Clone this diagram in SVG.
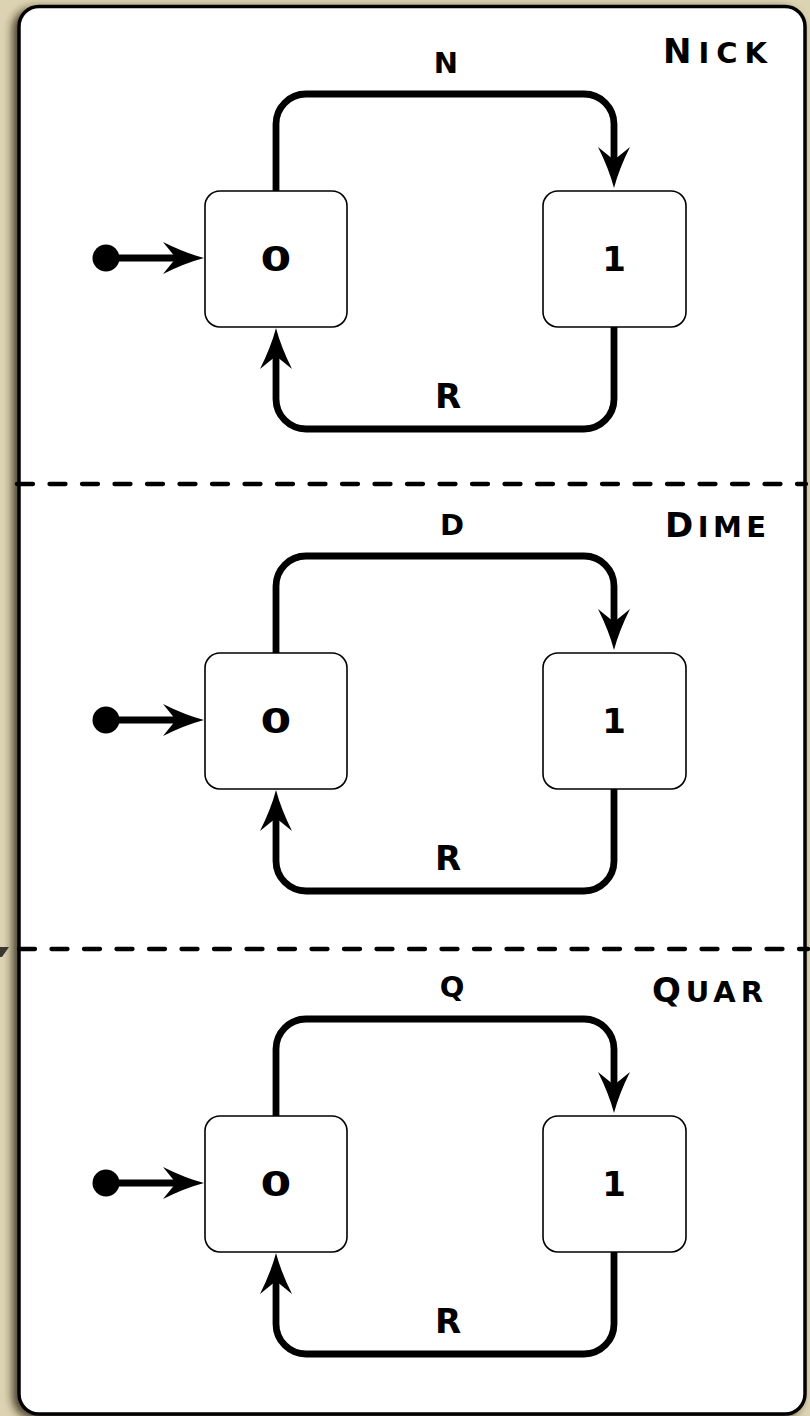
<svg xmlns="http://www.w3.org/2000/svg" width="810" height="1416" viewBox="0 0 810 1416">
  <style>
    .bg { fill: #dcd3b2; }
    .panel { fill: #ffffff; stroke: #000; stroke-width: 3.5; }
    .state { fill: #ffffff; stroke: #000; stroke-width: 1.6; }
    .edge { fill: none; stroke: #000; stroke-width: 6.8; stroke-linecap: butt; }
    .divider { fill: none; stroke: #000; stroke-width: 4.3; stroke-linecap: round; stroke-dasharray: 16 16.5; }
    .lbl { font-family: "DejaVu Sans", "Liberation Sans", sans-serif; font-weight: bold; fill: #000; text-anchor: middle; }
    .edge-lbl { font-size: 29px; }
    .ret-lbl { font-size: 34px; }
    .state-lbl { font-size: 34px; }
    .title { font-family: "DejaVu Sans", "Liberation Sans", sans-serif; font-weight: bold; font-size: 34px; font-variant: small-caps; fill: #000; }
    .title tspan { font-size: 42px; }
  </style>
  <defs>
    <filter id="panelShadow" x="-5%" y="-5%" width="110%" height="110%">
      <feDropShadow dx="-5" dy="3" stdDeviation="4" flood-color="#2a2410" flood-opacity="0.8"/>
    </filter>
    <marker id="head" markerUnits="userSpaceOnUse" viewBox="0 -17 44 34" markerWidth="44" markerHeight="34" refX="13" refY="0" orient="auto" overflow="visible">
      <path d="M41,0 Q22,-5 0,-16 L13,0 L0,16 Q22,5 41,0 Z" fill="#000"/>
    </marker>
  </defs>

  <!-- backdrop and card -->
  <rect class="bg" x="0" y="0" width="810" height="1416"/>
  <rect class="panel" x="19" y="6.5" width="786" height="1407.5" rx="20" ry="20" filter="url(#panelShadow)"/>

  <!-- section dividers -->
  <g id="dividers">
    <line class="divider" x1="17" y1="484" x2="806" y2="484"/>
    <line class="divider" x1="19" y1="949" x2="808" y2="949"/>
    <polygon points="0,947 9,947 2,957 0,957" fill="#3a3630"/>
  </g>

  <!-- connectors -->
  <g id="connectors">
    <!-- Nick -->
    <path class="edge" d="M106,258 H176" marker-end="url(#head)"/>
    <path class="edge" d="M276,191 V124 A30,30 0 0 1 306,94 H584 A30,30 0 0 1 614,124 V160" marker-end="url(#head)"/>
    <path class="edge" d="M614,327 V399 A30,30 0 0 1 584,429 H306 A30,30 0 0 1 276,399 V356" marker-end="url(#head)"/>
    <!-- Dime -->
    <path class="edge" d="M106,720 H176" marker-end="url(#head)"/>
    <path class="edge" d="M276,653 V586 A30,30 0 0 1 306,556 H584 A30,30 0 0 1 614,586 V622" marker-end="url(#head)"/>
    <path class="edge" d="M614,789 V861 A30,30 0 0 1 584,891 H306 A30,30 0 0 1 276,861 V818" marker-end="url(#head)"/>
    <!-- Quar -->
    <path class="edge" d="M106,1183 H176" marker-end="url(#head)"/>
    <path class="edge" d="M276,1116 V1049 A30,30 0 0 1 306,1019 H584 A30,30 0 0 1 614,1049 V1085" marker-end="url(#head)"/>
    <path class="edge" d="M614,1252 V1324 A30,30 0 0 1 584,1354 H306 A30,30 0 0 1 276,1324 V1281" marker-end="url(#head)"/>
    <!-- start dots -->
    <circle cx="106" cy="258" r="13.5" fill="#000"/>
    <circle cx="106" cy="720" r="13.5" fill="#000"/>
    <circle cx="106" cy="1183" r="13.5" fill="#000"/>
    <!-- edge labels -->
    <text class="lbl edge-lbl" x="446" y="73">N</text>
    <text class="lbl ret-lbl" x="448" y="408">R</text>
    <text class="lbl edge-lbl" x="452" y="535">D</text>
    <text class="lbl ret-lbl" x="448" y="870">R</text>
    <text class="lbl edge-lbl" x="452" y="997">Q</text>
    <text class="lbl ret-lbl" x="448" y="1333">R</text>
  </g>

  <!-- Nick machine -->
  <g id="nick">
    <text class="title" x="663" y="63" textLength="104" lengthAdjust="spacing">N<tspan>ick</tspan></text>
    <g id="nick-0">
      <rect class="state" x="205" y="191" width="142" height="136" rx="15"/>
      <text class="lbl state-lbl" transform="translate(276,270.5) scale(1.3,1)">0</text>
    </g>
    <g id="nick-1">
      <rect class="state" x="543" y="191" width="143" height="136" rx="15"/>
      <text class="lbl state-lbl" x="614" y="270.5">1</text>
    </g>
  </g>

  <!-- Dime machine -->
  <g id="dime">
    <text class="title" x="665" y="537" textLength="101" lengthAdjust="spacing">D<tspan>ime</tspan></text>
    <g id="dime-0">
      <rect class="state" x="205" y="653" width="142" height="136" rx="15"/>
      <text class="lbl state-lbl" transform="translate(276,732.5) scale(1.3,1)">0</text>
    </g>
    <g id="dime-1">
      <rect class="state" x="543" y="653" width="143" height="136" rx="15"/>
      <text class="lbl state-lbl" x="614" y="732.5">1</text>
    </g>
  </g>

  <!-- Quar machine -->
  <g id="quar">
    <text class="title" x="652" y="1002" textLength="111" lengthAdjust="spacing">Q<tspan>uar</tspan></text>
    <g id="quar-0">
      <rect class="state" x="205" y="1116" width="142" height="136" rx="15"/>
      <text class="lbl state-lbl" transform="translate(276,1195.5) scale(1.3,1)">0</text>
    </g>
    <g id="quar-1">
      <rect class="state" x="543" y="1116" width="143" height="136" rx="15"/>
      <text class="lbl state-lbl" x="614" y="1195.5">1</text>
    </g>
  </g>
</svg>
